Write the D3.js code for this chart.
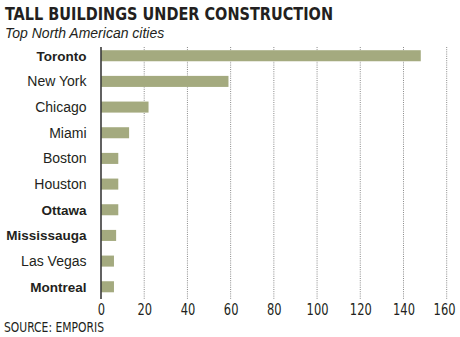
<!DOCTYPE html>
<html>
<head>
<meta charset="utf-8">
<script src="https://cdn.jsdelivr.net/npm/d3@7"></script>
<style>
  html, body { margin: 0; padding: 0; background: #fff; }
  svg { display: block; }
</style>
</head>
<body>
<script>
const cities = ["Toronto", "New York", "Chicago", "Miami", "Boston", "Houston", "Ottawa", "Mississauga", "Las Vegas", "Montreal"];
const buildings = [148, 59, 22, 13, 8, 8, 8, 7, 6, 6];
const canadian = ["Toronto", "Ottawa", "Mississauga", "Montreal"];
const xTicks = [0, 20, 40, 60, 80, 100, 120, 140, 160];
const titleText = "TALL BUILDINGS UNDER CONSTRUCTION";
const subtitleText = "Top North American cities";
const sourceText = "SOURCE: EMPORIS";

const W = 460, H = 337;
const ink = "#231f20";
const narrow = "'Liberation Sans Narrow', 'DejaVu Sans Condensed', 'Liberation Sans', sans-serif";
const regular = "'Liberation Sans', Arial, sans-serif";

const svg = d3.select("body").append("svg").attr("width", W).attr("height", H);

const x = d3.scaleLinear().domain([0, 160]).range([101, 446.7]);
const y = d3.scaleBand().domain(cities).range([42.9, 299.6]).paddingInner(0.57).paddingOuter(0.285);

// title & subtitle
svg.append("text").attr("x", 5).attr("y", 19.5)
  .attr("font-family", narrow).attr("font-weight", "bold").attr("font-size", 18)
  .attr("textLength", 328).attr("lengthAdjust", "spacingAndGlyphs")
  .attr("fill", ink).text(titleText);
svg.append("text").attr("x", 5).attr("y", 38)
  .attr("font-family", regular).attr("font-style", "italic").attr("font-size", 14)
  .attr("fill", ink).text(subtitleText);

// gridlines
svg.append("g").selectAll("line").data(xTicks.filter(d => d > 0)).join("line")
  .attr("x1", d => x(d)).attr("x2", d => x(d))
  .attr("y1", 47).attr("y2", 300)
  .attr("stroke", "#8a8a8a").attr("stroke-width", 1).attr("stroke-dasharray", "1,1.2");

// bars
svg.append("g").selectAll("rect").data(cities).join("rect")
  .attr("x", x(0)).attr("y", d => y(d))
  .attr("width", (d, i) => x(buildings[i]) - x(0))
  .attr("height", y.bandwidth())
  .attr("fill", "#a4aa7f");

// axis line
svg.append("line").attr("x1", x(0)).attr("x2", x(0)).attr("y1", 47).attr("y2", 299)
  .attr("stroke", "#3a3a3a").attr("stroke-width", 1.6);

// city labels
svg.append("g").selectAll("text").data(cities).join("text")
  .attr("x", 86.5).attr("y", d => y(d) + y.bandwidth() / 2)
  .attr("dy", "0.36em")
  .attr("text-anchor", "end")
  .attr("font-family", regular)
  .attr("font-weight", d => canadian.includes(d) ? "bold" : "normal")
  .attr("font-size", d => canadian.includes(d) ? 13.5 : 14)
  .attr("fill", ink).text(d => d);

// x tick labels via axis
const digitW = 7.3;
const xAxis = d3.axisBottom(x).tickValues(xTicks).tickSize(0).tickPadding(0).tickFormat(d3.format("d"));
const gx = svg.append("g").attr("transform", "translate(0,303)").call(xAxis);
gx.select(".domain").remove();
gx.selectAll("text").attr("font-family", narrow).attr("font-size", 16).attr("fill", ink)
  .attr("dy", "0.75em")
  .attr("textLength", d => String(d).length * digitW)
  .attr("lengthAdjust", "spacingAndGlyphs")
  .attr("dx", d => {
    const half = String(d).length * digitW / 2;
    const over = x(d) + half - (W - 5);
    return over > 0 ? -over : 0;
  });

// source
svg.append("text").attr("x", 4).attr("y", 331.5)
  .attr("font-family", narrow).attr("font-size", 13.2)
  .attr("textLength", 100).attr("lengthAdjust", "spacingAndGlyphs")
  .attr("fill", ink).text(sourceText);
</script>
</body>
</html>
